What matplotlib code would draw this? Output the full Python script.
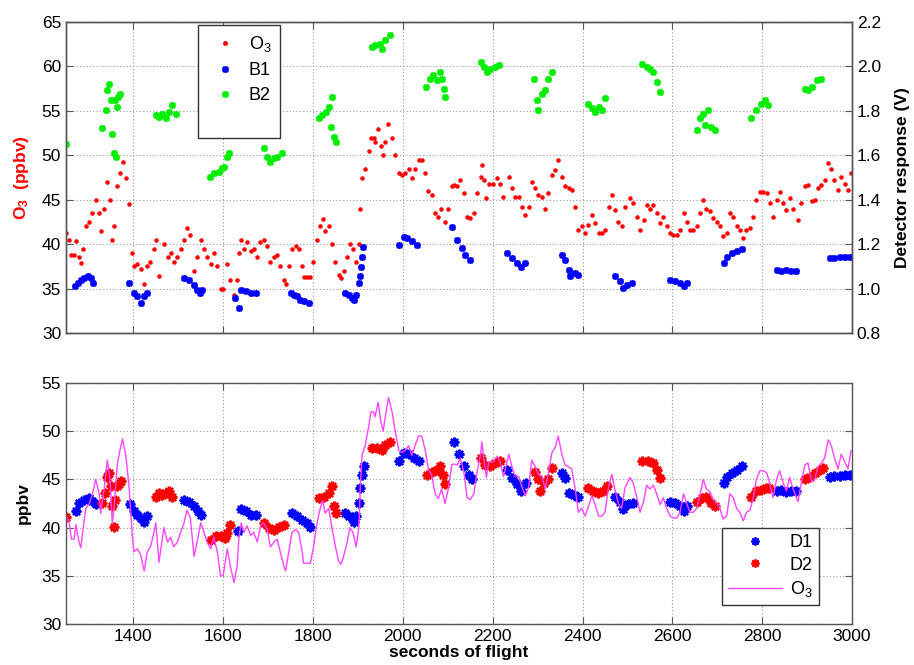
import numpy as np
import matplotlib
matplotlib.use("Agg")
import matplotlib.pyplot as plt
from matplotlib.lines import Line2D

plt.rcParams['font.family'] = ['Liberation Sans', 'DejaVu Sans']
plt.rcParams['mathtext.fontset'] = 'custom'
plt.rcParams['mathtext.rm'] = 'Liberation Sans'
plt.rcParams['mathtext.bf'] = 'Liberation Sans:bold'
plt.rcParams['mathtext.default'] = 'regular'

# ---------------- data ----------------
t_o3 = [1251, 1257, 1262, 1268, 1272, 1279, 1283, 1287, 1294, 1302, 1309, 1316, 1324, 1327,
        1335, 1342, 1348, 1353, 1357, 1364, 1370, 1376, 1383, 1390, 1398, 1401, 1409, 1416,
        1424, 1431, 1438, 1446, 1450, 1457, 1468, 1476, 1483, 1490, 1498, 1505, 1513, 1519,
        1527, 1535, 1542, 1550, 1557, 1564, 1572, 1579, 1587, 1594, 1600, 1609, 1616, 1624,
        1631, 1635, 1640, 1646, 1653, 1661, 1668, 1676, 1683, 1690, 1698, 1705, 1713, 1720,
        1727, 1735, 1739, 1746, 1753, 1761, 1768, 1776, 1779, 1787, 1794, 1801, 1809, 1816,
        1822, 1827, 1835, 1842, 1850, 1857, 1862, 1868, 1876, 1882, 1889, 1896, 1902, 1905,
        1909, 1916, 1924, 1929, 1935, 1938, 1945, 1951, 1956, 1961, 1968, 1976, 1983, 1991,
        1998, 2005, 2013, 2020, 2027, 2035, 2042, 2050, 2057, 2064, 2072, 2079, 2086, 2094,
        2101, 2109, 2113, 2121, 2128, 2136, 2143, 2150, 2158, 2165, 2173, 2176, 2180, 2186,
        2191, 2200, 2210, 2217, 2224, 2236, 2243, 2250, 2258, 2265, 2273, 2280, 2287, 2295,
        2302, 2310, 2317, 2324, 2332, 2339, 2346, 2354, 2361, 2369, 2376, 2383, 2391, 2398,
        2406, 2413, 2421, 2428, 2436, 2443, 2450, 2458, 2465, 2473, 2480, 2487, 2495, 2506,
        2513, 2521, 2528, 2536, 2543, 2550, 2558, 2565, 2573, 2580, 2587, 2595, 2602, 2610,
        2617, 2625, 2632, 2639, 2647, 2654, 2662, 2669, 2676, 2684, 2691, 2699, 2706, 2713,
        2721, 2728, 2736, 2743, 2750, 2758, 2765, 2773, 2780, 2787, 2795, 2802, 2810, 2817,
        2824, 2832, 2839, 2847, 2854, 2861, 2869, 2880, 2887, 2895, 2902, 2910, 2917, 2924,
        2932, 2939, 2947, 2954, 2961, 2969, 2976, 2984, 2991, 2998]
o3 = [41.2, 40.5, 38.8, 38.8, 40.3, 38.5, 37.9, 39.5, 42.0, 42.5, 43.5, 45.0, 43.5, 41.5,
      44.0, 47.0, 45.0, 40.5, 42.0, 46.5, 48.0, 49.2, 47.5, 44.5, 39.0, 37.5, 37.8, 37.2,
      35.5, 37.5, 38.0, 39.5, 40.5, 36.4, 40.0, 38.5, 39.0, 38.0, 38.5, 39.5, 40.5, 41.8,
      41.0, 37.0, 38.5, 40.5, 39.5, 38.5, 37.8, 39.0, 37.5, 35.0, 35.0, 37.8, 36.0, 34.3,
      36.0, 39.0, 40.5, 39.5, 40.2, 39.2, 39.5, 38.5, 40.2, 40.5, 39.8, 38.0, 38.5, 38.8,
      37.5, 36.0, 35.5, 37.5, 39.5, 39.8, 39.5, 37.5, 36.3, 36.3, 36.3, 38.0, 40.5, 42.0,
      42.8, 41.5, 42.0, 40.0, 38.0, 36.5, 36.2, 37.0, 38.5, 40.0, 39.5, 38.0, 40.0, 44.0,
      47.5, 48.5, 50.5, 52.0, 52.0, 51.5, 53.0, 51.0, 50.0, 51.5, 53.5, 52.0, 50.0, 48.0,
      47.8, 48.0, 48.5, 47.5, 48.5, 49.5, 49.5, 48.0, 46.0, 45.5, 43.5, 43.0, 44.0, 42.5,
      44.0, 46.5, 46.6, 46.5, 47.2, 45.7, 43.1, 42.9, 43.5, 45.7, 47.6, 48.9, 47.2, 45.2,
      46.8, 46.8, 47.4, 46.8, 45.3, 47.6, 46.3, 45.3, 45.3, 44.2, 43.3, 44.2, 47.0, 46.3,
      45.5, 45.3, 44.0, 45.7, 47.8, 48.3, 49.5, 47.6, 46.5, 46.3, 46.1, 44.2, 41.6, 42.0,
      41.2, 42.2, 43.3, 42.4, 41.2, 41.2, 41.6, 44.2, 45.5, 43.8, 42.5, 42.0, 44.2, 45.2,
      44.6, 43.1, 41.6, 42.7, 44.4, 44.0, 44.4, 43.5, 42.4, 43.1, 42.0, 41.2, 41.0, 41.0,
      41.6, 43.5, 42.5, 41.6, 41.6, 42.0, 43.5, 45.0, 44.0, 43.7, 42.9, 42.5, 42.0, 40.9,
      41.2, 43.5, 43.1, 42.0, 41.6, 40.7, 41.6, 41.8, 43.1, 45.0, 45.9, 45.9, 45.7, 44.6,
      43.1, 45.0, 45.9, 44.6, 43.8, 45.2, 44.0, 42.7, 44.6, 46.5, 46.7, 44.8, 45.0, 46.3,
      46.7, 47.2, 49.1, 48.5, 47.2, 46.1, 47.6, 46.8, 46.1, 48.0]

t_b1 = [1270, 1276, 1283, 1290, 1298, 1305, 1311,
        1390, 1401, 1409, 1416, 1424, 1431,
        1513, 1524, 1535, 1542, 1548, 1553,
        1627, 1635, 1639, 1650, 1661, 1672,
        1750, 1757, 1765, 1772, 1779, 1791,
        1872, 1879, 1887, 1892, 1896, 1902, 1905, 1907, 1909, 1911,
        1991, 2002, 2009, 2020, 2031,
        2110, 2121, 2132, 2139, 2150,
        2232, 2243, 2254, 2262, 2273,
        2354, 2362, 2369, 2373, 2384, 2391,
        2473, 2484, 2491, 2499, 2510,
        2595, 2606, 2617, 2625, 2633,
        2714, 2721, 2732, 2743, 2754,
        2832, 2843, 2854, 2865, 2876,
        2950, 2961, 2973, 2984, 2995]
b1 = [1.010, 1.025, 1.040, 1.047, 1.055, 1.047, 1.025,
      1.025, 0.980, 0.965, 0.935, 0.965, 0.980,
      1.047, 1.040, 1.017, 0.995, 0.980, 0.995,
      0.957, 0.912, 0.995, 0.987, 0.980, 0.980,
      0.980, 0.972, 0.965, 0.950, 0.942, 0.935,
      0.980, 0.972, 0.957, 0.950, 0.972, 1.025, 1.055, 1.099, 1.144, 1.189,
      1.197, 1.234, 1.227, 1.212, 1.197,
      1.279, 1.219, 1.182, 1.152, 1.129,
      1.159, 1.137, 1.114, 1.099, 1.114,
      1.152, 1.129, 1.084, 1.055, 1.070, 1.062,
      1.055, 1.032, 1.002, 1.017, 1.025,
      1.040, 1.032, 1.025, 1.010, 1.025,
      1.114, 1.144, 1.159, 1.167, 1.177,
      1.084, 1.077, 1.084, 1.077, 1.081,
      1.137, 1.137, 1.141, 1.144, 1.144]

t_b2 = [1251,
        1331, 1338, 1342, 1346, 1350, 1353, 1356, 1358, 1361, 1363, 1366, 1370,
        1450, 1457, 1464, 1472, 1479, 1487, 1494,
        1570, 1579, 1590, 1598, 1602, 1609, 1613,
        1690, 1698, 1705, 1713, 1720, 1731,
        1813, 1820, 1828, 1835, 1839, 1842, 1846, 1852,
        1931, 1939, 1950, 1954, 1961, 1972,
        2052, 2061, 2068, 2076, 2083, 2087, 2091, 2093,
        2173, 2180, 2187, 2195, 2206, 2213,
        2291, 2299, 2302, 2310, 2317, 2324, 2332,
        2413, 2421, 2428, 2436, 2443, 2450,
        2532, 2543, 2550, 2558, 2565, 2573,
        2654, 2661, 2669, 2672, 2680, 2687, 2695,
        2776, 2787, 2798, 2806, 2813,
        2895, 2902, 2910, 2921, 2932]
b2 = [1.650,
      1.721, 1.803, 1.893, 1.923, 1.848, 1.698, 1.609, 1.848, 1.594, 1.818, 1.863, 1.878,
      1.781, 1.773, 1.788, 1.766, 1.796, 1.826, 1.788,
      1.504, 1.519, 1.526, 1.541, 1.549, 1.594, 1.609,
      1.631, 1.594, 1.571, 1.586, 1.594, 1.609,
      1.766, 1.781, 1.796, 1.818, 1.728, 1.863, 1.683, 1.661,
      2.088, 2.095, 2.103, 2.080, 2.118, 2.140,
      1.908, 1.945, 1.960, 1.938, 1.975, 1.945, 1.900, 1.863,
      2.020, 1.998, 1.975, 1.990, 1.998, 2.005,
      1.945, 1.848, 1.803, 1.878, 1.893, 1.945, 1.975,
      1.833, 1.811, 1.796, 1.818, 1.803, 1.856,
      2.013, 1.998, 1.990, 1.975, 1.930, 1.886,
      1.713, 1.766, 1.788, 1.736, 1.803, 1.728, 1.713,
      1.766, 1.803, 1.833, 1.848, 1.826,
      1.900, 1.893, 1.908, 1.938, 1.945]

t_d1 = [1272, 1279, 1290, 1301, 1309, 1316,
        1393, 1401, 1409, 1416, 1424, 1431,
        1513, 1524, 1535, 1544, 1550,
        1633, 1639, 1650, 1661, 1672,
        1753, 1765, 1776, 1787, 1794,
        1872, 1879, 1891, 1896, 1902, 1905, 1909, 1913,
        1991, 2002, 2013, 2024, 2035,
        2113, 2124, 2136, 2147, 2154,
        2232, 2243, 2254, 2263, 2275,
        2354, 2362, 2369, 2380, 2391,
        2473, 2484, 2491, 2502, 2512,
        2595, 2606, 2617, 2625, 2633,
        2714, 2721, 2732, 2743, 2754,
        2832, 2843, 2854, 2865, 2876,
        2950, 2961, 2973, 2984, 2995]
d1 = [41.7, 42.55, 42.9, 43.1, 42.8, 42.4,
      42.4, 41.7, 41.3, 41.0, 40.6, 41.2,
      42.9, 42.7, 42.2, 41.7, 41.3,
      39.6, 41.9, 41.7, 41.3, 41.3,
      41.5, 41.2, 40.8, 40.5, 40.1,
      41.5, 41.2, 40.6, 41.2, 42.6, 44.1, 45.5, 46.4,
      46.9, 47.7, 47.6, 47.2, 46.9,
      48.9, 47.6, 46.4, 45.5, 45.0,
      46.0, 45.1, 44.5, 43.8, 44.6,
      45.7, 45.1, 43.6, 43.4, 43.2,
      43.2, 42.7, 41.9, 42.4, 42.6,
      42.7, 42.55, 42.2, 41.7, 42.2,
      44.6, 45.3, 45.7, 46.0, 46.4,
      43.8, 43.9, 43.7, 43.8, 43.8,
      45.3, 45.4, 45.4, 45.5, 45.5]

t_d2 = [1251,
        1331, 1336, 1342, 1346, 1350, 1353, 1356, 1358, 1363, 1368, 1373,
        1450, 1457, 1464, 1472, 1479, 1487,
        1572, 1583, 1594, 1603, 1609, 1615,
        1690, 1702, 1713, 1724, 1735,
        1813, 1824, 1835, 1842, 1846, 1852,
        1931, 1942, 1954, 1961, 1972,
        2054, 2065, 2076, 2083, 2089, 2093,
        2173, 2184, 2195, 2206, 2216,
        2295, 2300, 2306, 2315, 2324, 2332,
        2413, 2424, 2435, 2446, 2454,
        2533, 2546, 2557, 2566, 2573,
        2654, 2665, 2676, 2687, 2695,
        2776, 2787, 2798, 2809, 2816,
        2895, 2906, 2917, 2928, 2935]
d2 = [41.1,
      42.55, 43.6, 45.3, 45.7, 44.3, 42.2, 40.1, 42.9, 44.3, 44.5, 44.8,
      43.2, 43.6, 43.4, 43.6, 43.8, 43.2,
      38.7, 39.1, 39.1, 38.9, 39.4, 40.3,
      40.5, 40.0, 39.8, 40.1, 40.3,
      43.1, 43.2, 43.6, 44.3, 42.2, 41.5,
      48.3, 48.3, 48.1, 48.6, 48.9,
      45.5, 45.8, 46.0, 46.4, 45.5, 44.5,
      47.2, 46.5, 46.4, 46.7, 46.9,
      45.8, 45.0, 43.8, 44.6, 45.0, 46.2,
      44.1, 43.8, 43.6, 43.8, 44.3,
      46.9, 46.9, 46.7, 46.0, 45.1,
      42.7, 43.1, 43.2, 42.6, 42.2,
      43.2, 43.8, 43.9, 44.1, 44.1,
      45.0, 45.3, 45.7, 46.0, 46.2]

x_ticks = [1400, 1600, 1800, 2000, 2200, 2400, 2600, 2800, 3000]
ppb_ticks_top = [30, 35, 40, 45, 50, 55, 60, 65]
volt_ticks = [0.8, 1.0, 1.2, 1.4, 1.6, 1.8, 2.0, 2.2]
ppb_ticks_bot = [30, 35, 40, 45, 50, 55]

# ---------------- figure ----------------
W, H = 914, 665
fig = plt.figure(figsize=(W / 100, H / 100), dpi=100)

def frac(l, t, r, b):
    return [l / W, 1 - b / H, (r - l) / W, (b - t) / H]

spine_col = '#555555'
grid_kw = dict(color='#999999', linestyle=(0, (1, 2)), linewidth=0.8)
star = (8, 2, 0)

def style(ax):
    for s in ax.spines.values():
        s.set_color(spine_col)
        s.set_linewidth(1.0)
    ax.tick_params(direction='in', length=5, width=0.8, color=spine_col,
                   labelsize=12.5, top=True)

# top panel
ax1 = fig.add_axes(frac(66, 22, 852, 333))
ax2 = ax1.twinx()
ax1.plot(t_o3, o3, linestyle='none', marker='.', color='red', markersize=4.5, label='O$_3$')
ax2.plot(t_b1, b1, linestyle='none', marker=star, color='blue', markersize=5,
         markeredgewidth=1.2, label='B1')
ax2.plot(t_b2, b2, linestyle='none', marker=star, color='#00ee00', markersize=5,
         markeredgewidth=1.2, label='B2')
ax1.set_xlim(1250, 3000)
ax1.set_ylim(30, 65)
ax2.set_ylim(0.8, 2.2)
ax1.set_xticks(x_ticks)
ax1.set_xticklabels([])
ax1.set_yticks(ppb_ticks_top)
ax2.set_yticks(volt_ticks)
ax2.set_yticklabels([f'{v:.1f}' for v in volt_ticks])
ax1.grid(True, **grid_kw)
style(ax1)
style(ax2)
ax1.tick_params(right=False)
ax2.tick_params(direction='in', length=5, color=spine_col, labelsize=12.5)
ax1.set_ylabel(r'$\mathbf{O_3}$  (ppbv)', color='red', fontsize=12.5,
               fontweight='bold', labelpad=8)
ax2.set_ylabel('Detector response (V)', fontsize=12.5, fontweight='bold', labelpad=10)

h_o3 = Line2D([], [], linestyle='none', marker='.', color='red', markersize=5)
h_b1 = Line2D([], [], linestyle='none', marker=star, color='blue', markersize=5, markeredgewidth=1.2)
h_b2 = Line2D([], [], linestyle='none', marker=star, color='#00ee00', markersize=5, markeredgewidth=1.2)
h_blank = Line2D([], [], linestyle='none')
leg1 = ax2.legend([h_o3, h_b1, h_b2, h_blank], ['O$_3$', 'B1', 'B2', ' '],
                  loc='upper left', bbox_to_anchor=(198 / W, 1 - 25 / H),
                  bbox_transform=fig.transFigure, fontsize=13, frameon=True,
                  fancybox=False, edgecolor='#333333', framealpha=1,
                  borderaxespad=0, handletextpad=0.3, labelspacing=0.45,
                  borderpad=0.5)
leg1.get_frame().set_linewidth(1.0)

# bottom panel
ax3 = fig.add_axes(frac(66, 383, 852, 624))
ax3.plot(t_d1, d1, linestyle='none', marker=star, color='blue', markersize=7,
         markeredgewidth=1.6, label='D1')
ax3.plot(t_d2, d2, linestyle='none', marker=star, color='red', markersize=7,
         markeredgewidth=1.6, label='D2')
ax3.plot(t_o3, o3, color='#ff44ff', linewidth=1.0, label='O$_3$')
ax3.set_xlim(1250, 3000)
ax3.set_ylim(30, 55)
ax3.set_xticks(x_ticks)
ax3.set_yticks(ppb_ticks_bot)
ax3.grid(True, **grid_kw)
style(ax3)
ax3.tick_params(right=True)
ax3.set_ylabel('ppbv', fontsize=12.5, fontweight='bold', labelpad=8)
ax3.set_xlabel('seconds of flight', fontsize=12.5, fontweight='bold', labelpad=1)

h_d1 = Line2D([], [], linestyle='none', marker=star, color='blue', markersize=6, markeredgewidth=1.3)
h_d2 = Line2D([], [], linestyle='none', marker=star, color='red', markersize=6, markeredgewidth=1.3)
h_l = Line2D([], [], color='#ff44ff', linewidth=1.0)
leg2 = ax3.legend([h_d1, h_d2, h_l], ['D1', 'D2', 'O$_3$'],
                  loc='upper left', bbox_to_anchor=(722 / W, 1 - 528 / H),
                  bbox_transform=fig.transFigure, fontsize=13, frameon=True,
                  fancybox=False, edgecolor='#333333', framealpha=1,
                  borderaxespad=0, handlelength=3.0, handletextpad=0.4,
                  labelspacing=0.3, borderpad=0.35)
leg2.get_frame().set_linewidth(1.0)

fig.savefig('out.png', dpi=100)
